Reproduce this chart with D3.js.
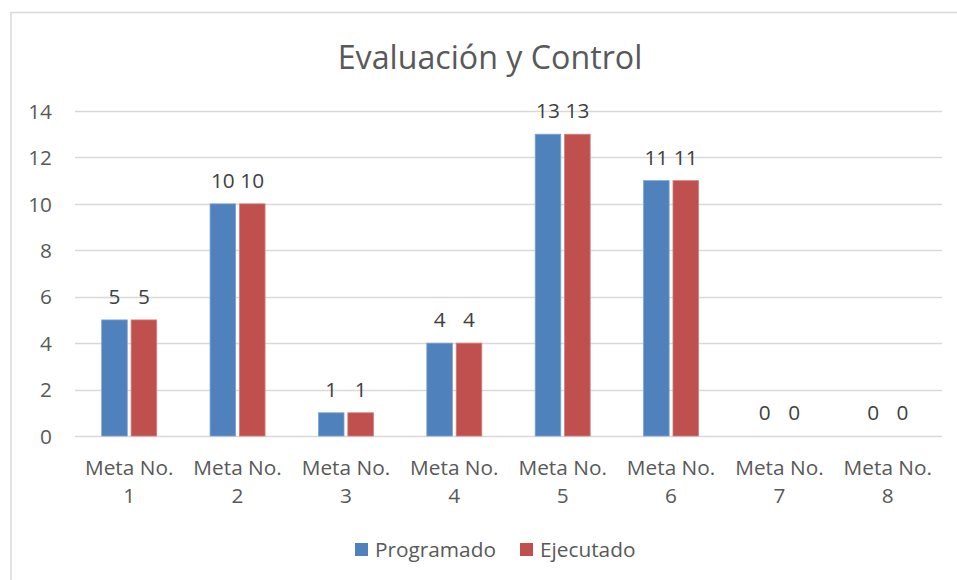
<!DOCTYPE html>
<html><head><meta charset="utf-8">
<script src="https://cdn.jsdelivr.net/npm/d3@7"></script>
<style>body{margin:0;background:#fff}svg{display:block}text{font-family:"Open Sans",Lato,sans-serif}</style>
</head><body>
<svg id="c" width="957" height="580"></svg>
<script>
const categories = ["Meta No. 1","Meta No. 2","Meta No. 3","Meta No. 4","Meta No. 5","Meta No. 6","Meta No. 7","Meta No. 8"];
const seriesNames = ["Programado","Ejecutado"];
const programado = [5,10,1,4,13,11,0,0];
const ejecutado = [5,10,1,4,13,11,0,0];
const yTicks = [0,2,4,6,8,10,12,14];
const colors = ["#4F81BD","#C0504D"];
const strokes = ["#7EA3D1","#D47E7C"];

(function(){
const FS = 20.8;
const svg = d3.select("#c");
svg.append("rect").attr("x",11).attr("y",12.5).attr("width",960).attr("height",580).attr("fill","#fff").attr("stroke","#D9D9D9").attr("stroke-width",1.5);

const pl=75, pr=942, pt=111, pb=436;
const x0 = d3.scaleBand().domain(categories).range([pl,pr]);
const x1 = d3.scaleBand().domain(seriesNames).range([0,55]).paddingInner(0.13);
const y = d3.scaleLinear().domain([0,14]).range([pb,pt]);

svg.append("text").attr("x",490).attr("y",69).attr("text-anchor","middle").attr("font-size",32.2).attr("fill","#595959").text("Evaluación y Control");

const g = svg.append("g");
g.selectAll("line.grid").data(yTicks).join("line").attr("class","grid")
  .attr("x1",pl).attr("x2",pr).attr("y1",d=>Math.round(y(d))+0.5).attr("y2",d=>Math.round(y(d))+0.5)
  .attr("stroke","#D9D9D9").attr("stroke-width",1.3);

const yAxis = d3.axisLeft(y).tickValues(yTicks).tickSize(0).tickPadding(0);
const ya = svg.append("g").attr("transform",`translate(52,0)`).call(yAxis);
ya.select(".domain").remove();
ya.selectAll("text").attr("font-size",FS).attr("fill","#595959").attr("font-family","'Open Sans',Lato,sans-serif").attr("dy","0.35em");

const data = [programado, ejecutado];
seriesNames.forEach((s,si)=>{
  const off = x0.bandwidth()/2 - 27.5;
  g.selectAll("rect.s"+si).data(data[si]).join("rect").attr("class","s"+si)
    .attr("x",(d,i)=>x0(categories[i])+off+x1(s))
    .attr("width",x1.bandwidth())
    .attr("y",d=>y(d)).attr("height",d=>y(0)-y(d))
    .attr("fill",colors[si]).attr("stroke",strokes[si]).attr("stroke-width",d=>d>0?0.8:0);
  g.selectAll("text.l"+si).data(data[si]).join("text").attr("class","l"+si)
    .attr("x",(d,i)=>x0(categories[i])+off+x1(s)+x1.bandwidth()/2)
    .attr("y",d=>y(d)-16)
    .attr("text-anchor","middle").attr("font-size",FS).attr("fill","#404040").text(d=>d);
});

const xa = svg.append("g");
categories.forEach(c=>{
  const parts = [c.slice(0,c.lastIndexOf(" ")), c.slice(c.lastIndexOf(" ")+1)];
  const t = xa.append("text").attr("text-anchor","middle").attr("font-size",FS).attr("fill","#595959");
  parts.forEach((p,k)=>t.append("tspan").attr("x",x0(c)+x0.bandwidth()/2).attr("y",475+k*28).text(p));
});

const leg = svg.append("g");
const legX = [355,520];
seriesNames.forEach((s,i)=>{
  leg.append("rect").attr("x",legX[i]).attr("y",543).attr("width",13).attr("height",13).attr("fill",colors[i]);
  leg.append("text").attr("x",legX[i]+20).attr("y",557).attr("font-size",FS).attr("fill","#595959").text(s);
});
})();
</script>
</body></html>
